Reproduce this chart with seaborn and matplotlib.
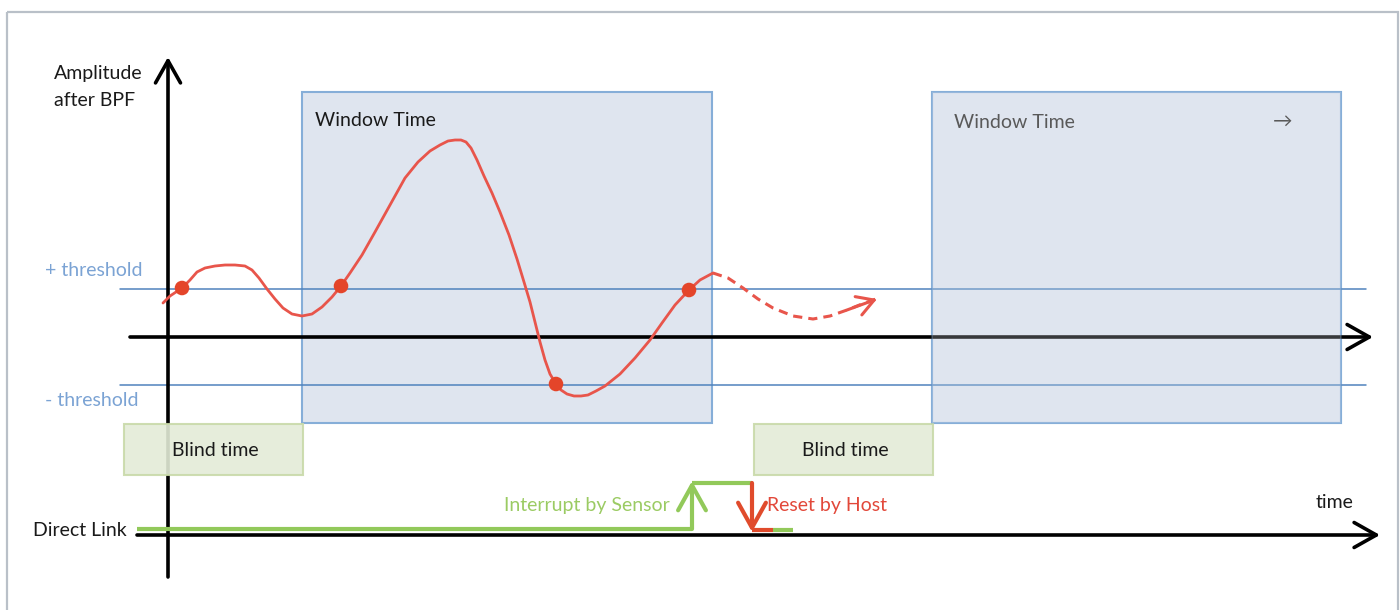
import numpy as np
import pandas as pd
import matplotlib
matplotlib.use("Agg")
import matplotlib.pyplot as plt
from matplotlib.patches import Rectangle
import seaborn as sns

# signal (pixel coordinates, y grows downward)
curve_x = [163, 170, 182, 190, 197, 205, 215, 225, 235, 245, 252, 259, 267, 275, 283, 292,
           302, 312, 322, 332, 341, 350, 362, 375, 390, 405, 418, 430, 440, 448, 455, 461,
           466, 471, 477, 484, 492, 500, 509, 517, 524, 530, 535, 540, 545, 550, 556, 561,
           567, 574, 581, 588, 596, 605, 620, 635, 650, 662, 675, 689, 700, 713]
curve_y = [303, 296, 288, 280, 272, 268, 266, 265, 265, 266, 270, 278, 289, 299, 308, 314,
           316, 314, 307, 297, 286, 273, 255, 232, 205, 178, 162, 151, 145, 141, 140, 140,
           142, 148, 160, 176, 193, 212, 235, 259, 282, 302, 322, 342, 360, 374, 384, 390,
           394, 396, 396, 395, 391, 386, 374, 358, 340, 323, 305, 290, 280, 273]
dash_x = [713, 728, 743, 758, 773, 793, 813, 830, 847, 862, 876]
dash_y = [273, 278, 288, 299, 308, 316, 319, 316, 310, 304, 299]
hit_x = [182, 341, 556, 689]
hit_y = [288, 286, 384, 290]

threshold_y = [289, 385]
threshold_labels = ["+ threshold", "- threshold"]
window_x = [(302, 712), (932, 1341)]
blind_x = [(124, 303), (754, 933)]

link_x = [137, 692, 692, 752]
link_y = [529, 529, 483, 483]

df_curve = pd.DataFrame({"x": curve_x, "y": curve_y})
df_dash = pd.DataFrame({"x": dash_x, "y": dash_y})
df_hit = pd.DataFrame({"x": hit_x, "y": hit_y})

sns.set_theme(style="white")
plt.rcParams["font.family"] = ["Lato", "DejaVu Sans"]

fig = plt.figure(figsize=(14, 6.1), dpi=100)
ax = fig.add_axes([0, 0, 1, 1])
ax.set_xlim(0, 1400)
ax.set_ylim(610, 0)
ax.axis("off")

red = "#e8554b"
green = "#92c95a"
blue_line = "#4f82bd"
box_fill = "#dfe5ef"
fs = 14

# outer frame
ax.add_patch(Rectangle((7, 12), 1391, 640, fill=False, edgecolor="#b9c0c8", lw=1.6, clip_on=False))

# window boxes
for wx0, wx1 in window_x:
    ax.add_patch(Rectangle((wx0, 92), wx1 - wx0, 331, facecolor=box_fill,
                           edgecolor="#86aed8", lw=1.5, zorder=1))
# the second window sits a bit over the axis, so the axis greys out there
ax.add_patch(Rectangle((window_x[1][0], 92), window_x[1][1] - window_x[1][0], 331,
                       facecolor=box_fill, edgecolor="#86aed8", lw=1.5, alpha=0.25, zorder=6))

# threshold lines
for ty, lab in zip(threshold_y, threshold_labels):
    ax.plot([120, 1366], [ty, ty], color=blue_line, lw=1.1, zorder=2)
    ax.text(45, ty - 18 if ty < 300 else ty + 16, lab, color="#7ba3d4", fontsize=fs,
            va="center", ha="left")

# axes arrows
arrow = dict(arrowstyle="->,head_length=0.8,head_width=0.45", lw=2.6, color="black",
             shrinkA=0, shrinkB=0, mutation_scale=20)
ax.annotate("", xy=(168, 57), xytext=(168, 577), arrowprops=arrow, zorder=3)
ax.annotate("", xy=(1373, 337), xytext=(130, 337), arrowprops=arrow, zorder=3)
ax.annotate("", xy=(1380, 535), xytext=(137, 535), arrowprops=arrow, zorder=3)

# blind boxes
for bx0, bx1 in blind_x:
    ax.add_patch(Rectangle((bx0, 424), bx1 - bx0, 51, facecolor="#e4ecd7",
                           edgecolor="#c9daa9", lw=1.5, alpha=0.9, zorder=4))

# signal curve
sns.lineplot(data=df_curve, x="x", y="y", sort=False, color=red, lw=2, ax=ax, zorder=5)
sns.lineplot(data=df_dash, x="x", y="y", sort=False, color=red, lw=2.2, ax=ax, zorder=5,
             linestyle=(0, (3, 2)))
ax.annotate("", xy=(dash_x[-1] + 1, dash_y[-1]), xytext=(dash_x[-3], dash_y[-3]),
            arrowprops=dict(arrowstyle="->,head_length=0.6,head_width=0.35", lw=2.2,
                            color=red, shrinkA=0, shrinkB=0, mutation_scale=20), zorder=5)
sns.scatterplot(data=df_hit, x="x", y="y", color="#e4452a", s=110, edgecolor="none",
                ax=ax, zorder=6)

# direct link step
ax.plot(link_x[:2], link_y[:2], color=green, lw=3, zorder=5, solid_capstyle="butt")
ax.plot(link_x[2:], link_y[2:], color=green, lw=3, zorder=5, solid_capstyle="butt")
ax.annotate("", xy=(692, 481), xytext=(692, 529),
            arrowprops=dict(arrowstyle="->,head_length=0.9,head_width=0.5", lw=3, color=green,
                            shrinkA=0, shrinkB=0, mutation_scale=20), zorder=5)
ax.annotate("", xy=(752, 532), xytext=(752, 483),
            arrowprops=dict(arrowstyle="->,head_length=0.9,head_width=0.5", lw=3, color="#e04b2c",
                            shrinkA=0, shrinkB=0, mutation_scale=20), zorder=5)
ax.plot([752, 773], [530, 530], color="#e04b2c", lw=3, zorder=5, solid_capstyle="butt")
ax.plot([773, 793], [530, 530], color=green, lw=3, zorder=5, solid_capstyle="butt")

# labels
ax.text(54, 73, "Amplitude", fontsize=fs, color="#1a1a1a", va="center")
ax.text(54, 100, "after BPF", fontsize=fs, color="#1a1a1a", va="center")
ax.text(315, 120, "Window Time", fontsize=fs, color="#1a1a1a", va="center", zorder=7)
ax.text(954, 123, "Window Time", fontsize=fs, color="#595959", va="center", zorder=7)
ax.text(1283, 121, "→", fontsize=fs, color="#595959", va="center", ha="center", zorder=7)
ax.text(172, 451, "Blind time", fontsize=fs, color="#1a1a1a", va="center", zorder=7)
ax.text(845, 451, "Blind time", fontsize=fs, color="#1a1a1a", va="center", ha="center", zorder=7)
ax.text(670, 506, "Interrupt by Sensor", fontsize=fs, color="#9bcb63", va="center", ha="right")
ax.text(767, 506, "Reset by Host", fontsize=fs, color="#e2483a", va="center", ha="left")
ax.text(1335, 502, "time", fontsize=fs, color="#1a1a1a", va="center", ha="center")
ax.text(33, 530, "Direct Link", fontsize=fs, color="#1a1a1a", va="center", ha="left")

fig.savefig("out.png", dpi=100)
